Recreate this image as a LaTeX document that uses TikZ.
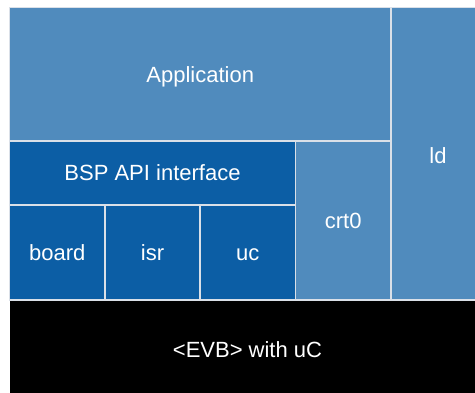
\documentclass[tikz,border=0pt]{standalone}
\usepackage{fontspec}
\setmainfont{Liberation Sans}
\usepackage{xcolor}
\usepackage{tikz}
\usetikzlibrary{positioning}
\definecolor{layerlight}{RGB}{80, 139, 189}
\definecolor{layerdark}{RGB}{12, 94, 165}
\definecolor{hwblack}{RGB}{0, 0, 0}
\definecolor{cellborder}{RGB}{218, 224, 232}
\tikzset{
  basecell/.style={
    rectangle, anchor=north west, inner sep=0pt, outer sep=0pt,
    draw=cellborder, line width=1.6pt, text=white, align=center,
    text height=15.8pt, text depth=0pt,
    font=\fontsize{22}{26}\selectfont
  },
  lightcell/.style={basecell, fill=layerlight},
  darkcell/.style={basecell, fill=layerdark},
  hwcell/.style={basecell, fill=hwblack, draw=none},
  celllabel/.style={text=white, inner sep=0pt, text height=15.8pt, text depth=0pt,
    font=\fontsize{22}{26}\selectfont}
}

\begin{document}
\begin{tikzpicture}[x=1pt, y=-1pt]

  \fill[white] (0,0) rectangle (475,392);
  \useasboundingbox (0,0) rectangle (475,392);
  \clip (0,0) rectangle (475,392);

  % Board
  \node[hwcell, minimum width=476pt, minimum height=100pt] (evb) at (9.5,300) {<EVB> with uC};

  % Linker script
  \node[lightcell, minimum width=94pt, minimum height=292.5pt] (ld) at (391,7.5) {};
  \node[celllabel] (ldtext) at (438,156) {ld};

  % Application
  \node[lightcell, minimum width=381.5pt, minimum height=133.5pt] (app) at (9.5,7.5) {Application};

  % Startup code
  \node[lightcell, minimum width=95.5pt, minimum height=159pt] (crt0) at (295.5,141) {crt0};

  % BSP
  \node[darkcell, minimum width=286pt, minimum height=64pt] (bsp) at (9.5,141) {BSP API interface};
  \node[darkcell, minimum width=95.5pt, minimum height=95pt] (board) at (9.5,205) {board};
  \node[darkcell, minimum width=95pt, minimum height=95pt, right=0pt of board] (isr) {isr};
  \node[darkcell, minimum width=95.5pt, minimum height=95pt, right=0pt of isr] (uc) {uc};

\end{tikzpicture}
\end{document}
